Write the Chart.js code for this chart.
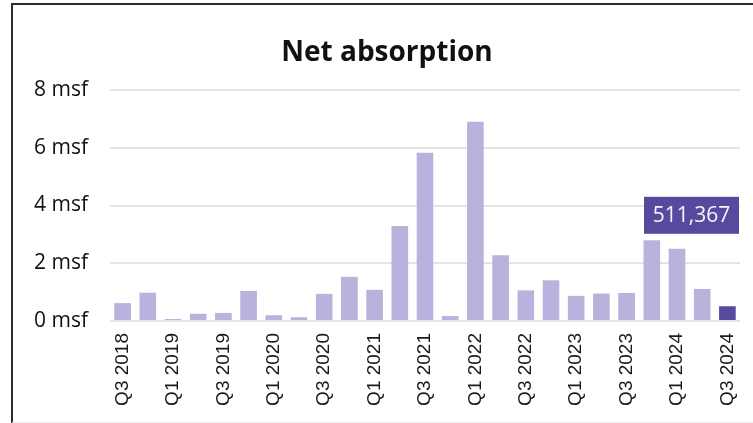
<!DOCTYPE html>
<html>
<head>
<meta charset="utf-8">
<script src="https://cdn.jsdelivr.net/npm/chart.js@4.4.1/dist/chart.umd.min.js"></script>
<style>
  html, body { margin: 0; padding: 0; background: #fff; }
  #wrap { position: relative; width: 753px; height: 423px; overflow: hidden; }
  #frame {
    position: absolute; left: 11px; top: 3px; right: -4px; bottom: 0;
    border-left: 2px solid #2b2b2b; border-top: 2px solid #2b2b2b;
    border-bottom: 1px solid #ececec; pointer-events: none;
  }
  canvas { position: absolute; left: 0; top: 0; }
</style>
</head>
<body>
<div id="wrap">
  <canvas id="chart" width="753" height="423"></canvas>
  <div id="frame"></div>
</div>
<script>
// Quarterly net absorption, million square feet
const quarters = [
  'Q3 2018', 'Q4 2018', 'Q1 2019', 'Q2 2019', 'Q3 2019', 'Q4 2019',
  'Q1 2020', 'Q2 2020', 'Q3 2020', 'Q4 2020', 'Q1 2021', 'Q2 2021',
  'Q3 2021', 'Q4 2021', 'Q1 2022', 'Q2 2022', 'Q3 2022', 'Q4 2022',
  'Q1 2023', 'Q2 2023', 'Q3 2023', 'Q4 2023', 'Q1 2024', 'Q2 2024',
  'Q3 2024'
];
const absorptionMsf = [
  0.62, 0.98, 0.07, 0.25, 0.28, 1.04,
  0.20, 0.13, 0.94, 1.53, 1.08, 3.29,
  5.83, 0.17, 6.90, 2.28, 1.06, 1.41,
  0.87, 0.95, 0.97, 2.80, 2.50, 1.11,
  0.511367
];
const yTicks = [0, 2, 4, 6, 8];
const chartTitle = 'Net absorption';

const BAR = '#b8b3dc';
const BAR_LATEST = '#574a9e';
const lastIdx = absorptionMsf.length - 1;

// Title drawn above the plot area
const titlePlugin = {
  id: 'titleText',
  afterDraw(chart) {
    const ctx = chart.ctx;
    ctx.save();
    ctx.font = 'bold 28px "Open Sans"';
    ctx.fillStyle = '#111';
    ctx.textAlign = 'center';
    ctx.textBaseline = 'alphabetic';
    ctx.fillText(chartTitle, 387, 61);
    ctx.restore();
  }
};

// Callout with the latest quarter's value in square feet
const calloutPlugin = {
  id: 'latestCallout',
  afterDatasetsDraw(chart) {
    const ctx = chart.ctx;
    const y = chart.scales.y;
    const area = chart.chartArea;
    const top = y.getPixelForValue(4.3);
    const bottom = y.getPixelForValue(3.02);
    const right = area.right - 1;
    const left = right - 95;
    const text = Math.round(absorptionMsf[lastIdx] * 1e6).toLocaleString('en-US');
    ctx.save();
    ctx.fillStyle = BAR_LATEST;
    ctx.fillRect(left, top, right - left, bottom - top);
    ctx.fillStyle = '#f4f4f4';
    ctx.font = '21px "Open Sans"';
    ctx.textAlign = 'center';
    ctx.textBaseline = 'middle';
    ctx.fillText(text, (left + right) / 2, (top + bottom) / 2 + 1);
    ctx.restore();
  }
};

new Chart(document.getElementById('chart'), {
  type: 'bar',
  data: {
    labels: quarters,
    datasets: [{
      data: absorptionMsf,
      backgroundColor: absorptionMsf.map((_, i) => i === lastIdx ? BAR_LATEST : BAR),
      borderWidth: 0,
      categoryPercentage: 1,
      barPercentage: 0.66
    }]
  },
  options: {
    responsive: false,
    devicePixelRatio: 1,
    animation: false,
    layout: { padding: { top: 90, right: 13, left: 0, bottom: 0 } },
    plugins: {
      legend: { display: false },
      title: { display: false },
      tooltip: { enabled: false }
    },
    scales: {
      x: {
        grid: { display: false, drawTicks: false },
        border: { display: false },
        ticks: {
          autoSkip: false,
          minRotation: 90,
          maxRotation: 90,
          padding: 12,
          color: '#1a1a1a',
          font: { family: '"Liberation Sans"', size: 19 },
          callback: (v, i) => (i % 2 === 0 ? quarters[i] : '')
        },
        afterFit(s) {
          s.height = 102;
          s.paddingLeft = 0;
          s.paddingRight = 0;
        }
      },
      y: {
        min: 0,
        max: 8,
        afterBuildTicks(s) { s.ticks = yTicks.map(v => ({ value: v })); },
        grid: { color: '#e4e4e4', lineWidth: 2, drawTicks: false },
        border: { display: false },
        ticks: {
          padding: 22,
          color: '#111',
          font: { family: '"Open Sans"', size: 21 },
          callback: v => v + ' msf'
        },
        afterFit(s) {
          s.width = 110;
          s.paddingTop = 0;
          s.paddingBottom = 0;
        }
      }
    }
  },
  plugins: [titlePlugin, calloutPlugin]
});
</script>
</body>
</html>
